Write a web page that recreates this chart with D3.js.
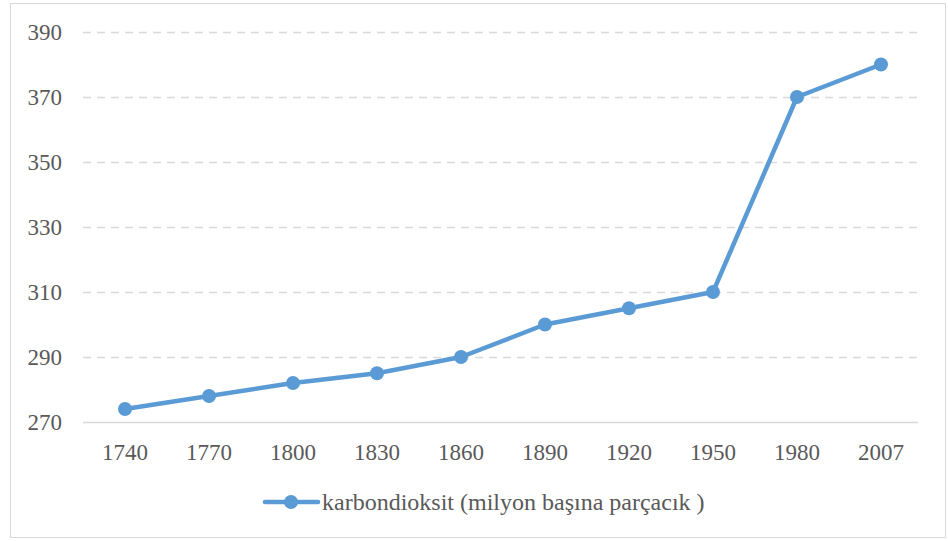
<html>
<head>
<script src="https://d3js.org/d3.v7.min.js"></script>
<style>
body { margin: 0; background: #fff; }
</style>
</head>
<body>
<svg id="chart"></svg>
<script>
// data
var years = ['1740','1770','1800','1830','1860','1890','1920','1950','1980','2007'];
var co2 = [274, 278, 282, 285, 290, 300, 305, 310, 370, 380];
var yTicks = [270, 290, 310, 330, 350, 370, 390];
var seriesName = 'karbondioksit (milyon başına parçacık )';

var W = 948, H = 541;
var color = '#5B9BD5';
var font = 'Liberation Serif';

var svg = d3.select('#chart').attr('width', W).attr('height', H);

// outer frame
svg.append('rect')
	.attr('x', 10.5).attr('y', 3.5)
	.attr('width', 935).attr('height', 534)
	.attr('fill', '#fff').attr('stroke', '#d9d9d9').attr('stroke-width', 1);

var x = d3.scaleBand().domain(years).range([83, 923]);
var y = d3.scaleLinear().domain([270, 390]).range([422, 32]);

// gridlines
svg.selectAll('.grid')
	.data(yTicks.slice(1))
	.enter().append('line')
	.attr('x1', 83).attr('x2', 918)
	.attr('y1', function(d) { return Math.round(y(d)) + 0.5; })
	.attr('y2', function(d) { return Math.round(y(d)) + 0.5; })
	.attr('stroke', '#d9d9d9').attr('stroke-width', 1.3)
	.attr('stroke-dasharray', '8,6');

// base axis line
svg.append('line')
	.attr('x1', 83).attr('x2', 918)
	.attr('y1', y(270) + 0.5).attr('y2', y(270) + 0.5)
	.attr('stroke', '#d9d9d9').attr('stroke-width', 1.5);

// y labels
svg.selectAll('.ylab')
	.data(yTicks)
	.enter().append('text')
	.attr('x', 62)
	.attr('y', function(d) { return y(d); })
	.attr('dy', '0.35em')
	.attr('text-anchor', 'end')
	.attr('font-family', font)
	.attr('font-size', 23)
	.attr('fill', '#595959')
	.text(function(d) { return d; });

// x labels
svg.selectAll('.xlab')
	.data(years)
	.enter().append('text')
	.attr('x', function(d) { return x(d) + x.bandwidth() / 2; })
	.attr('y', 452)
	.attr('dy', '0.35em')
	.attr('text-anchor', 'middle')
	.attr('font-family', font)
	.attr('font-size', 23)
	.attr('fill', '#595959')
	.text(function(d) { return d; });

var pts = years.map(function(d, i) { return [x(d) + x.bandwidth() / 2, y(co2[i])]; });

svg.append('path')
	.attr('d', d3.line()(pts))
	.attr('fill', 'none')
	.attr('stroke', color)
	.attr('stroke-width', 4.5)
	.attr('stroke-linejoin', 'round')
	.attr('stroke-linecap', 'round');

svg.selectAll('.dot')
	.data(pts)
	.enter().append('circle')
	.attr('cx', function(d) { return d[0]; })
	.attr('cy', function(d) { return d[1]; })
	.attr('r', 7)
	.attr('fill', color);

// legend
var lg = svg.append('g').attr('transform', 'translate(0,502)');
lg.append('line')
	.attr('x1', 265).attr('x2', 318)
	.attr('y1', 0).attr('y2', 0)
	.attr('stroke', color).attr('stroke-width', 4.5)
	.attr('stroke-linecap', 'round');
lg.append('circle').attr('cx', 291).attr('cy', 0).attr('r', 7).attr('fill', color);
lg.append('text')
	.attr('x', 322).attr('y', 0).attr('dy', '0.35em')
	.attr('font-family', font)
	.attr('font-size', 24)
	.attr('fill', '#595959')
	.text(seriesName);
</script>
</body>
</html>
